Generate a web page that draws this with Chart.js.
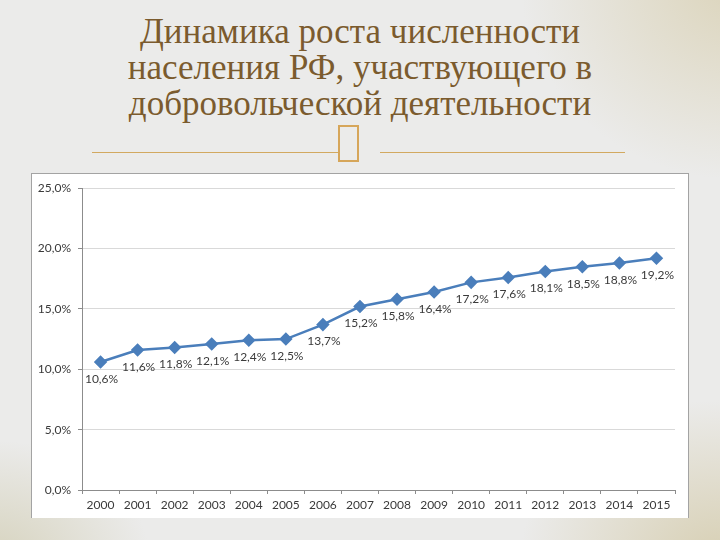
<!DOCTYPE html>
<html>
<head>
<meta charset="utf-8">
<script src="https://cdn.jsdelivr.net/npm/chart.js@4.4.1/dist/chart.umd.min.js"></script>
<style>
  html, body { margin: 0; padding: 0; }
  body {
    width: 720px; height: 540px; position: relative; overflow: hidden;
    background:
      radial-gradient(ellipse 220px 200px at 740px -20px, rgba(214, 204, 170, 0.75), rgba(214, 204, 170, 0) 100%),
      radial-gradient(ellipse 200px 160px at 720px 560px, rgba(210, 200, 165, 0.8), rgba(210, 200, 165, 0) 100%),
      radial-gradient(ellipse 160px 120px at -10px 560px, rgba(205, 200, 170, 0.7), rgba(205, 200, 170, 0) 100%),
      #ebebea;
  }
  #title {
    position: absolute; left: 0; top: 14px; width: 720px;
    text-align: center; color: #7b5b2e;
    font-family: "Liberation Serif", serif; font-size: 35px; line-height: 36px;
  }
  .rule { position: absolute; top: 152px; height: 1px; background: #d2a960; }
  #glyph {
    position: absolute; left: 338px; top: 125px; width: 17px; height: 33px;
    border: 2.5px solid #d6a65a;
  }
  #box {
    position: absolute; left: 31px; top: 173px; width: 656px; height: 344px;
    background: #fff; border: 1px solid #a3a3a3; border-bottom: none;
  }
</style>
</head>
<body>
<div id="title">Динамика роста численности<br>населения РФ, участвующего в<br>добровольческой деятельности</div>
<div class="rule" style="left:92px;width:246px"></div>
<div class="rule" style="left:380px;width:245px"></div>
<div id="glyph"></div>
<div id="box"><canvas id="chart"></canvas></div>
<script>
// Years on the x axis
const years = ['2000', '2001', '2002', '2003', '2004', '2005', '2006', '2007',
  '2008', '2009', '2010', '2011', '2012', '2013', '2014', '2015'];
// Share of population, %
const shares = [10.6, 11.6, 11.8, 12.1, 12.4, 12.5, 13.7, 15.2,
  15.8, 16.4, 17.2, 17.6, 18.1, 18.5, 18.8, 19.2];

const fmt = v => v.toFixed(1).replace('.', ',') + '%';
const FONT = { family: 'Lato, "Liberation Sans", sans-serif', size: 12 };

// draws the value under each point, like the Excel data labels
const valueLabels = {
  id: 'valueLabels',
  afterDatasetsDraw(chart) {
    const ctx = chart.ctx;
    const meta = chart.getDatasetMeta(0);
    ctx.save();
    ctx.font = `${FONT.size}px ${FONT.family}`;
    ctx.fillStyle = '#3a3a3a';
    ctx.textAlign = 'center';
    ctx.textBaseline = 'middle';
    meta.data.forEach((pt, i) => {
      ctx.fillText(fmt(shares[i]), pt.x + 1, pt.y + 17);
    });
    ctx.restore();
  }
};

new Chart(document.getElementById('chart'), {
  type: 'line',
  data: {
    labels: years,
    datasets: [{
      data: shares,
      borderColor: '#4A7EBB',
      backgroundColor: '#4A7EBB',
      borderWidth: 2.5,
      tension: 0,
      pointStyle: 'rectRot',
      pointRadius: 5,
      pointHoverRadius: 5
    }]
  },
  options: {
    responsive: true,
    maintainAspectRatio: false,
    animation: false,
    layout: { padding: { top: 13, right: 13, left: 0, bottom: 0 } },
    plugins: { legend: { display: false }, tooltip: { enabled: false } },
    scales: {
      x: {
        offset: true,
        grid: { offset: true, drawOnChartArea: false, drawTicks: true, tickLength: 4, color: '#8c8c8c' },
        border: { color: '#8c8c8c' },
        ticks: { color: '#3a3a3a', font: FONT, padding: 4, maxRotation: 0, autoSkip: false },
        afterFit: s => { s.height = 28; }
      },
      y: {
        min: 0, max: 25,
        grid: { color: '#d9d9d9', tickLength: 4, tickColor: '#8c8c8c' },
        border: { color: '#8c8c8c' },
        ticks: { stepSize: 5, color: '#3a3a3a', font: FONT, padding: 7, callback: v => fmt(v) },
        afterFit: s => { s.width = 50; }
      }
    }
  },
  plugins: [valueLabels]
});
</script>
</body>
</html>
